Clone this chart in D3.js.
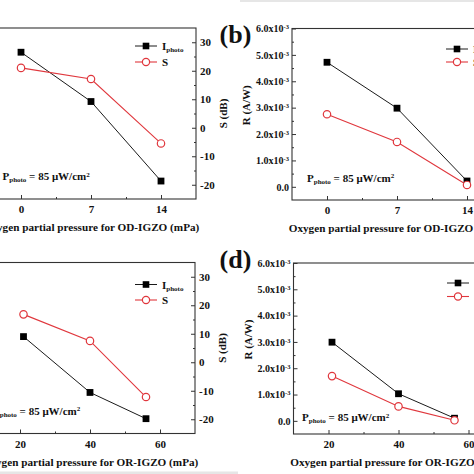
<!DOCTYPE html>
<html>
<head>
<meta charset="utf-8">
<script src="https://cdn.jsdelivr.net/npm/d3@7"></script>
<style>
  html, body { margin: 0; padding: 0; background: #fff; }
  svg { display: block; }
  text { font-family: "Liberation Serif", "Times New Roman", serif; font-weight: bold; fill: #111; }
</style>
</head>
<body>
<svg id="chart" width="474" height="474"></svg>
<script>
// ---------------- DATA ----------------
const odPressure = [0, 7, 14];          // mPa, OD-IGZO
const orPressure = [21, 40, 56];        // mPa, OR-IGZO
const odXTicks = [0, 7, 14];
const orXTicks = [20, 40, 60];
const sTicks = [-20, -10, 0, 10, 20, 30];
const rTicks = [0, 1e-3, 2e-3, 3e-3, 4e-3, 5e-3, 6e-3];

// (a) OD-IGZO: I_photo (left axis, outside the visible crop) and S (dB)
const odIphoto = [26.5, 9.2, -18.7];
const odS = [21.0, 17.1, -5.5];
// (b) OD-IGZO responsivity R (A/W)
const odR_Iphoto = [4.72e-3, 2.98e-3, 0.22e-3];
const odR_S = [2.75e-3, 1.70e-3, 0.07e-3];
// (c) OR-IGZO: I_photo and S (dB)
const orIphoto = [9.0, -10.6, -19.8];
const orS = [16.8, 7.5, -12.2];
// (d) OR-IGZO responsivity R (A/W)
const orR_Iphoto = [2.99e-3, 1.03e-3, 0.10e-3];
const orR_S = [1.70e-3, 0.55e-3, 0.02e-3];

const seriesNames = ["I", "S"];
const xTitles = ["Oxygen partial pressure for OD-IGZO (mPa)", "Oxygen partial pressure for OR-IGZO (mPa)"];
const panelLetters = ["(b)", "(d)"];

// ---------------- LAYOUT ----------------
const RED = "#e0373d";
const INK = "#1a1a1a";
const svg = d3.select("#chart");
const intFmt = d => String(Math.round(d)); // plain hyphen-minus as in the original

// light strips from neighbouring figure parts
svg.append("rect").attr("x", 240).attr("y", 0).attr("width", 234).attr("height", 2).attr("fill", "#e6e6e6");
svg.append("rect").attr("x", 0).attr("y", 471.5).attr("width", 238).attr("height", 2.5).attr("fill", "#e6e6e6");

const panels = [
  { x: -14, y: 28, w: 210, h: 171, xDomain: [-3.5, 17.5], xs: odPressure, xTicks: odXTicks, kind: "S",
    a: odIphoto, b: odS, title: xTitles[0], legX: 135, legY: [46, 62], annX: 16.5, annY: 152 },
  { x: 292, y: 28.5, w: 210, h: 171.5, xDomain: [-3.5, 17.5], xs: odPressure, xTicks: odXTicks, kind: "R",
    a: odR_Iphoto, b: odR_S, title: xTitles[0], legX: 446, legY: [49, 62], annX: 15, annY: 153, letter: panelLetters[0], letterY: 43 },
  { x: -15, y: 262.5, w: 210, h: 171, xDomain: [10, 70], xs: orPressure, xTicks: orXTicks, kind: "S",
    a: orIphoto, b: orS, title: xTitles[1], legX: 135, legY: [284.5, 300], annX: 8, annY: 152 },
  { x: 293.5, y: 263, w: 210, h: 171, xDomain: [10, 70], xs: orPressure, xTicks: orXTicks, kind: "R",
    a: orR_Iphoto, b: orR_S, title: xTitles[1], legX: 447, legY: [283, 296.5], annX: 8.5, annY: 158, letter: panelLetters[1], letterY: 267.5 }
];

function minorBetween(ticks, extra) {
  const out = [];
  for (let i = 0; i < ticks.length - 1; i++) out.push((ticks[i] + ticks[i + 1]) / 2);
  return out.concat(extra || []);
}

panels.forEach(p => {
  const g = svg.append("g");
  const x = d3.scaleLinear().domain(p.xDomain).range([p.x, p.x + p.w]);
  let yA, yB;
  if (p.kind === "S") {
    yA = d3.scaleLinear().domain([-25, 35]).range([p.y + p.h, p.y]); // left (hidden) I_photo axis
    yB = d3.scaleLinear().domain([-25, 35]).range([p.y + p.h, p.y]); // right S axis
  } else {
    yA = d3.scaleLinear().domain([-0.5e-3, 6.0e-3]).range([p.y + p.h, p.y]);
    yB = yA;
  }

  // frame
  g.append("rect").attr("x", p.x).attr("y", p.y).attr("width", p.w).attr("height", p.h)
    .attr("fill", "none").attr("stroke", "#333").attr("stroke-width", 1.1);

  // x axis (inward ticks)
  const xMinor = minorBetween(p.xTicks);
  const xAx = g.append("g").attr("transform", `translate(0,${p.y + p.h})`)
    .call(d3.axisBottom(x).tickValues(p.xTicks).tickSize(-4).tickPadding(4).tickFormat(intFmt));
  g.append("g").attr("transform", `translate(0,${p.y + p.h})`)
    .call(d3.axisBottom(x).tickValues(xMinor).tickSize(-2).tickFormat(""));
  xAx.selectAll("text").attr("font-size", 11).attr("dy", "0.95em");

  // x title
  g.append("text").attr("x", p.x + p.w / 2).attr("y", p.y + p.h + 32)
    .attr("text-anchor", "middle").attr("font-size", 11.2).text(p.title);

  if (p.kind === "S") {
    // right S axis
    const sAx = g.append("g").attr("transform", `translate(${p.x + p.w},0)`)
      .call(d3.axisRight(yB).tickValues(sTicks).tickSize(-4).tickPadding(4).tickFormat(intFmt));
    g.append("g").attr("transform", `translate(${p.x + p.w},0)`)
      .call(d3.axisRight(yB).tickValues(minorBetween(sTicks)).tickSize(-2).tickFormat(""));
    sAx.selectAll("text").attr("font-size", 11);
    // left I_photo axis (falls outside the crop)
    g.append("g").attr("transform", `translate(${p.x},0)`)
      .call(d3.axisLeft(yA).tickValues(sTicks).tickSize(-4).tickFormat(""));
    // S title
    g.append("text").attr("transform", `translate(${p.x + p.w + 27},${p.y + p.h / 2}) rotate(-90)`)
      .attr("text-anchor", "middle").attr("dominant-baseline", "central").attr("font-size", 11).text("S (dB)");
  } else {
    const rAx = g.append("g").attr("transform", `translate(${p.x},0)`)
      .call(d3.axisLeft(yA).tickValues(rTicks).tickSize(-4).tickPadding(3));
    g.append("g").attr("transform", `translate(${p.x},0)`)
      .call(d3.axisLeft(yA).tickValues(minorBetween(rTicks)).tickSize(-2).tickFormat(""));
    rAx.selectAll("text").each(function(d) {
      const t = d3.select(this).text(null).attr("font-size", 10);
      if (Math.abs(d) < 1e-12) { t.text("0.0"); return; }
      const mant = (d / 1e-3).toFixed(1);
      t.append("tspan").text(mant + "x10");
      t.append("tspan").attr("font-size", 6.5).attr("dy", "-0.45em").text("-3");
    });
    g.append("text").attr("transform", `translate(${p.x - 46},${p.y + p.h / 2 - 9}) rotate(-90)`)
      .attr("text-anchor", "middle").attr("dominant-baseline", "central").attr("font-size", 11).text("R (A/W)");
    // panel letter
    g.append("text").attr("x", 235.5).attr("y", p.letterY).attr("text-anchor", "middle")
      .attr("font-size", 26).text(p.letter);
  }
  g.selectAll(".domain").remove();
  g.selectAll(".tick line").attr("stroke", "#333");

  // lines
  const lineA = d3.line().x((d, i) => x(p.xs[i])).y(d => yA(d));
  const lineB = d3.line().x((d, i) => x(p.xs[i])).y(d => yB(d));
  g.append("path").datum(p.a).attr("d", lineA).attr("fill", "none").attr("stroke", INK).attr("stroke-width", 1);
  g.append("path").datum(p.b).attr("d", lineB).attr("fill", "none").attr("stroke", RED).attr("stroke-width", 1.1);

  g.selectAll(".sq").data(p.a).join("rect")
    .attr("x", (d, i) => x(p.xs[i]) - 3.4).attr("y", d => yA(d) - 3.4)
    .attr("width", 6.8).attr("height", 6.8).attr("fill", "#000");
  g.selectAll(".ci").data(p.b).join("circle")
    .attr("cx", (d, i) => x(p.xs[i])).attr("cy", d => yB(d)).attr("r", 3.7)
    .attr("fill", "#fff").attr("stroke", RED).attr("stroke-width", 1.2);

  // legend
  const lx = p.legX, L = 22;
  g.append("line").attr("x1", lx).attr("x2", lx + L).attr("y1", p.legY[0]).attr("y2", p.legY[0]).attr("stroke", INK);
  g.append("rect").attr("x", lx + L / 2 - 3.3).attr("y", p.legY[0] - 3.3).attr("width", 6.6).attr("height", 6.6).attr("fill", "#000");
  g.append("line").attr("x1", lx).attr("x2", lx + L).attr("y1", p.legY[1]).attr("y2", p.legY[1]).attr("stroke", RED).attr("stroke-width", 1.1);
  g.append("circle").attr("cx", lx + L / 2).attr("cy", p.legY[1]).attr("r", 3.6).attr("fill", "#fff").attr("stroke", RED).attr("stroke-width", 1.2);
  const t1 = g.append("text").attr("x", lx + L + 5).attr("y", p.legY[0] + 4).attr("font-size", 11);
  t1.append("tspan").text(seriesNames[0]);
  t1.append("tspan").attr("font-size", 7).attr("dy", "0.35em").text("photo");
  g.append("text").attr("x", lx + L + 5).attr("y", p.legY[1] + 4).attr("font-size", 11).text(seriesNames[1]);

  // annotation
  const an = g.append("text").attr("x", p.x + p.annX).attr("y", p.y + p.annY).attr("font-size", 11);
  an.append("tspan").text("P");
  an.append("tspan").attr("font-size", 7).attr("dy", "0.3em").text("photo");
  an.append("tspan").attr("dy", "-0.19em").text(" = 85 μW/cm");
  an.append("tspan").attr("font-size", 7).attr("dy", "-0.5em").text("2");
});
</script>
</body>
</html>
